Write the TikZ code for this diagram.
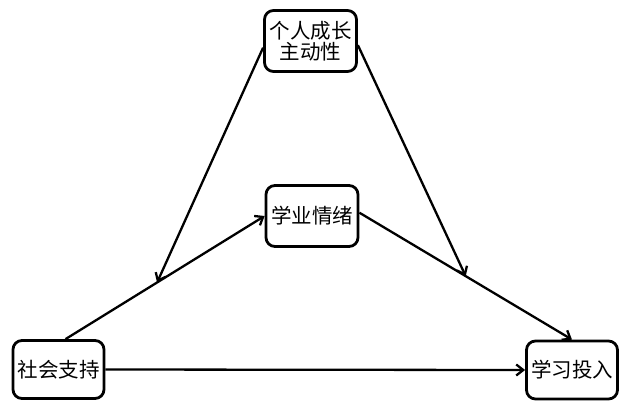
\documentclass[tikz,border=0pt]{standalone}
\usepackage{fontspec}
\newfontfamily\cjk{Noto Sans CJK SC}
\usetikzlibrary{arrows.meta,calc}
\begin{document}
\begin{tikzpicture}[x=1pt,y=-1pt,
  box/.style={draw,line width=2.8pt,rounded corners=9pt,inner sep=0pt,align=center,
    font=\cjk\fontsize{20.5}{21}\selectfont},
  conn/.style={line width=2.3pt,-{Straight Barb[length=7pt,width=11pt]}}]
\useasboundingbox (0,0) rectangle (624,402);
\node[box,minimum width=92pt,minimum height=61pt] (A) at (310.5,41) {个人成长\\主动性};
\node[box,minimum width=92pt,minimum height=61pt] (B) at (312,216) {学业情绪};
\node[box,minimum width=91pt,minimum height=58pt] (C) at (58.5,369.5) {社会支持};
\node[box,minimum width=91pt,minimum height=58pt] (D) at (572,370) {学习投入};
\draw[conn] (C.77) -- (B.west);
\draw[conn] (B.4) -- (D.north);
\draw[conn] (C.east) -- (D.west);
\coordinate (m1) at ($(C.77)!0.46!(B.west)$);
\coordinate (m2) at ($(B.4)!0.5!(D.north)$);
\draw[conn] (A.188) -- (m1);
\draw[conn] (A.-5) -- (m2);
\end{tikzpicture}
\end{document}
